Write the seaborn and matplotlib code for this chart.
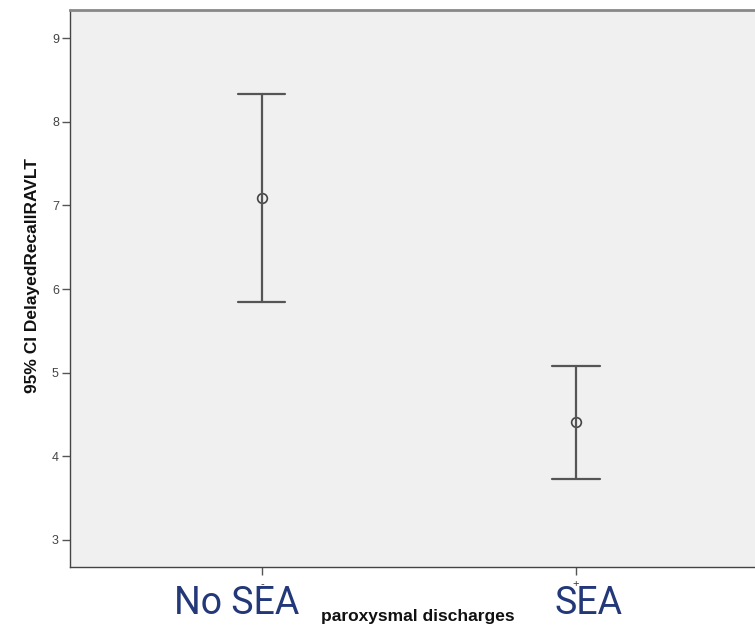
import matplotlib
matplotlib.use("Agg")
import matplotlib.pyplot as plt
import seaborn as sns
import pandas as pd
import numpy as np

categories = ["-", "+"]
group_names = ["No SEA", "SEA"]
means = [7.09, 4.41]
ci_lower = [5.84, 3.73]
ci_upper = [8.33, 5.08]
y_ticks = [3, 4, 5, 6, 7, 8, 9]

rows = []
for c, lo, m, hi in zip(categories, ci_lower, means, ci_upper):
    for v in (lo, m, hi):
        rows.append({"group": c, "value": v})
df = pd.DataFrame(rows)

sns.set_theme(style="white")
plt.rcParams['font.family'] = ['Liberation Sans', 'DejaVu Sans']

fig = plt.figure(figsize=(7.55, 6.26), dpi=100)
ax = fig.add_axes([70/755, 59/626, 1 - 70/755, (567-10)/626])
ax.set_facecolor("#F0F0F0")

sns.pointplot(data=df, x="group", y="value", order=categories,
              estimator="median", errorbar=lambda x: (x.min(), x.max()),
              linestyle="none", marker="o", markersize=7,
              markerfacecolor="none", markeredgecolor="#444444", markeredgewidth=1.2,
              color="#555555", capsize=0.15, err_kws={"linewidth": 1.6},
              ax=ax)

ax.set_xlim(-0.611, 1.570)
ax.set_ylim(2.677, 9.335)
ax.set_yticks(y_ticks)
ax.set_yticklabels([str(t) for t in y_ticks], fontsize=9, color="#444444")
ax.set_xticks([0, 1])
ax.set_xticklabels(categories, fontsize=8, color="#333333")
ax.tick_params(axis="both", which="both", length=6, width=1, color="#555555",
               direction="out", pad=2, left=True, bottom=True)
ax.tick_params(axis="x", pad=3)

ax.set_ylabel("95% CI DelayedRecallRAVLT", fontsize=12.5, fontweight="bold",
              color="#111111")
ax.yaxis.set_label_coords(-0.044, 0.524)
ax.set_xlabel("")

for side in ["left", "bottom"]:
    ax.spines[side].set_color("#444444")
    ax.spines[side].set_linewidth(1.0)
ax.spines["top"].set_color("#888888")
ax.spines["top"].set_linewidth(2.0)
ax.spines["right"].set_visible(False)

fig.text(418/755, 1 - 617/626, "paroxysmal discharges", ha="center", va="center",
         fontsize=12.5, fontweight="bold", color="#111111")
for xc, name in zip([237, 589], group_names):
    fig.text(xc/755, 1 - 604/626, name, ha="center", va="center",
             fontsize=27, color="#233878", family=["Roboto", "DejaVu Sans"])

fig.savefig("out.png", dpi=100, facecolor="white")
